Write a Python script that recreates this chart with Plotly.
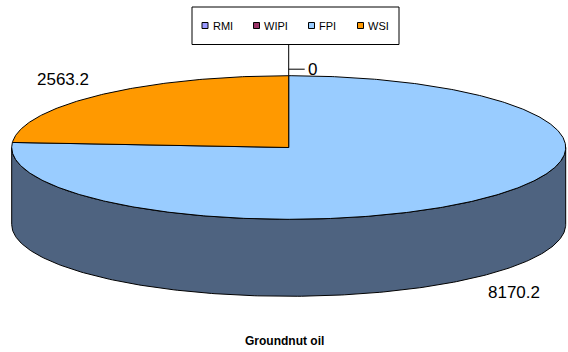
import numpy as np
import plotly.graph_objects as go

# Groundnut oil: share by category
categories = ["RMI", "WIPI", "FPI", "WSI"]
values = [0.0, 0.0, 8170.2, 2563.2]
chart_title = "Groundnut oil"

# styling
top_colors = ["#9999FF", "#993366", "#99CCFF", "#FF9900"]
side_colors = ["#4D4D80", "#4D1A33", "#4E6380", "#804D00"]
FONT = "Liberation Sans, Arial, sans-serif"

# pie geometry in pixel space (y grows downward)
W, H = 568, 352
CX, CY = 288.7, 147.5
RX, RY = 277.0, 71.8
DEPTH = 77.0


def ellipse(theta_deg, dy=0.0):
    t = np.radians(theta_deg)
    return CX + RX * np.sin(t), CY - RY * np.cos(t) + dy


total = float(sum(values))
starts, ends = [], []
acc = 0.0
for v in values:
    starts.append(acc / total * 360.0)
    acc += v
    ends.append(acc / total * 360.0)

fig = go.Figure()

# visible side walls (front half of the cylinder: 90..270 degrees clockwise from 12 o'clock)
for i, v in enumerate(values):
    lo, hi = max(starts[i], 90.0), min(ends[i], 270.0)
    if v <= 0 or hi <= lo:
        continue
    th = np.linspace(lo, hi, 240)
    xt, yt = ellipse(th)
    xb, yb = ellipse(th[::-1], DEPTH)
    xs = np.concatenate([xt, xb, xt[:1]])
    ys = np.concatenate([yt, yb, yt[:1]])
    fig.add_trace(go.Scatter(x=xs, y=ys, mode="lines", fill="toself",
                             fillcolor=side_colors[i],
                             line=dict(color="#000000", width=1),
                             hoverinfo="skip", showlegend=False))

# top faces
for i, v in enumerate(values):
    if v <= 0:
        continue
    th = np.linspace(starts[i], ends[i], max(int((ends[i] - starts[i]) * 2), 8))
    xa, ya = ellipse(th)
    xs = np.concatenate([[CX], xa, [CX]])
    ys = np.concatenate([[CY], ya, [CY]])
    fig.add_trace(go.Scatter(x=xs, y=ys, mode="lines", fill="toself",
                             fillcolor=top_colors[i],
                             line=dict(color="#000000", width=1),
                             name=categories[i], hoverinfo="skip",
                             showlegend=False))

annotations = []
shapes = []

# value labels for non-zero slices, placed just outside the rim
for i, v in enumerate(values):
    if v <= 0:
        continue
    mid = (starts[i] + ends[i]) / 2.0
    t = np.radians(mid)
    lx = CX + RX * 1.195 * np.sin(t)
    ly = CY - RY * 1.3 * np.cos(t)
    if 90.0 < mid < 270.0:
        ly += DEPTH
    annotations.append(dict(x=lx, y=ly, xref="x", yref="y", text=f"{v:.1f}",
                            showarrow=False, xanchor="center", yanchor="middle",
                            font=dict(family=FONT, size=17, color="#000000")))

# legend box
LEG_X0, LEG_X1, LEG_Y0, LEG_Y1 = 192, 399, 7, 44.5
LEG_YC = 25.5

# zero-value slices get a leader line to their label
zero_angles = sorted({round(starts[i], 6) for i, v in enumerate(values) if v == 0})
for a in zero_angles:
    px, py = ellipse(a)
    shapes.append(dict(type="line", xref="x", yref="y", x0=px, x1=px,
                       y0=py, y1=LEG_Y1, line=dict(color="#000000", width=1)))
    shapes.append(dict(type="line", xref="x", yref="y", x0=px, x1=px + 16,
                       y0=py - 6.5, y1=py - 6.5, line=dict(color="#000000", width=1)))
    annotations.append(dict(x=px + 17.5, y=py - 6.5, xref="x", yref="y", text="0",
                            showarrow=False, xanchor="left", yanchor="middle",
                            font=dict(family=FONT, size=17, color="#000000")))

shapes.append(dict(type="rect", xref="x", yref="y", x0=LEG_X0, x1=LEG_X1,
                   y0=LEG_Y0, y1=LEG_Y1, fillcolor="#FFFFFF",
                   line=dict(color="#000000", width=1), layer="below"))

# legend entries: marker centre positions along the box
legend_marker_x = [205.0, 256.5, 311.5, 360.5]
fig.add_trace(go.Scatter(x=legend_marker_x, y=[LEG_YC] * len(categories),
                         mode="markers",
                         marker=dict(symbol="square", size=6, color=top_colors,
                                     line=dict(color="#000000", width=1)),
                         hoverinfo="skip", showlegend=False))
for mx, name in zip(legend_marker_x, categories):
    annotations.append(dict(x=mx + 5.5, y=LEG_YC, xref="x", yref="y", text=name,
                            showarrow=False, xanchor="left", yanchor="middle",
                            font=dict(family=FONT, size=11, color="#000000")))

# chart title below the pie
annotations.append(dict(x=284, y=340.5, xref="x", yref="y",
                        text=f"<b>{chart_title}</b>", showarrow=False,
                        xanchor="center", yanchor="middle",
                        font=dict(family=FONT, size=12, color="#000000")))

fig.update_layout(
    width=W, height=H,
    margin=dict(l=0, r=0, t=0, b=0),
    paper_bgcolor="#FFFFFF", plot_bgcolor="#FFFFFF",
    xaxis=dict(range=[0, W], visible=False, fixedrange=True),
    yaxis=dict(range=[H, 0], visible=False, fixedrange=True),
    showlegend=False,
    shapes=shapes,
    annotations=annotations,
)

fig.write_html("out.html")
